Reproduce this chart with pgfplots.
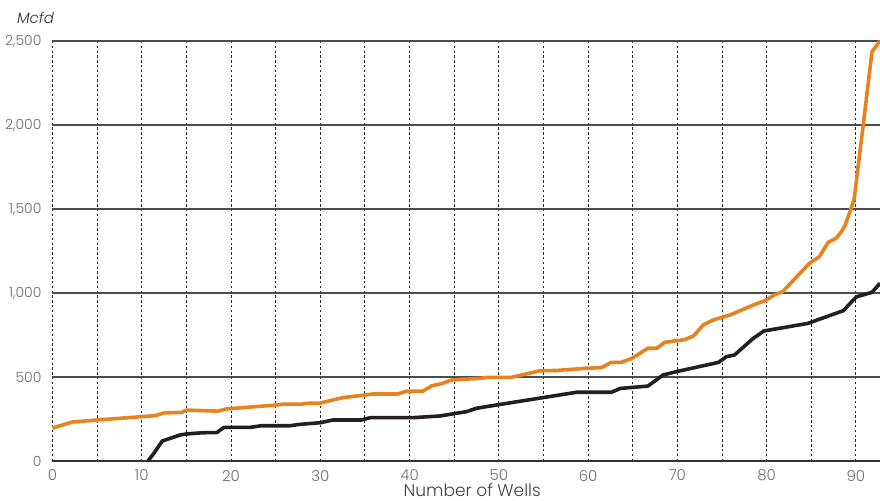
\documentclass[border=0pt]{standalone}
\usepackage{fontspec}
\setmainfont{Poppins}
\newfontfamily\lightfont{Poppins Light}
\newfontfamily\lightitfont{Poppins Light Italic}
\usepackage{pgfplots}
\pgfplotsset{compat=1.18}
\definecolor{corange}{HTML}{E8821E}
\definecolor{cblack}{HTML}{231F20}
\definecolor{cgrey}{HTML}{6D6E71}
\begin{document}
\begin{tikzpicture}
\useasboundingbox (-26.25pt,-19.5pt) rectangle (413.75pt,230.5pt);
\begin{axis}[
  scale only axis, width=413.75pt, height=210pt,
  at={(0,0)}, anchor=south west,
  xmin=0, xmax=92.7, ymin=0, ymax=2500,
  axis line style={draw=none},
  xtick={0,10,...,90}, minor xtick={5,15,...,85},
  ytick={0,500,...,2500},
  yticklabels={0,500,{1,000},{1,500},{2,000},{2,500}},
  xticklabel style={font=\lightfont\fontsize{7.5}{8}\selectfont, text=cgrey},
  yticklabel style={font=\lightfont\fontsize{7}{8}\selectfont, text=cgrey},
  /pgf/number format/assume math mode=true,
  major tick length=0pt, minor tick length=0pt,
  tick style={draw=none},
  xmajorgrids, xminorgrids, ymajorgrids,
  major x grid style={black!85, line width=0.5pt, dash pattern=on 1.2pt off 1.2pt},
  minor x grid style={black!85, line width=0.5pt, dash pattern=on 1.2pt off 1.2pt},
  major y grid style={black!70, line width=0.6pt},
  xticklabel shift=1pt, yticklabel shift=2pt,
  xlabel={Number of Wells},
  xlabel style={font=\lightfont\fontsize{8.5}{9}\selectfont, text=black!75, at={(rel axis cs:0.5,0)}, anchor=base, yshift=-17.5pt, xshift=3pt},
  clip=false,
]
\draw[black!80, line width=0.8pt] (rel axis cs:0,0) -- (rel axis cs:1,0);
\node[anchor=base west, font=\lightitfont\fontsize{7.5}{8}\selectfont, text=black!80] at (rel axis cs:0,1) [xshift=-21.25pt, yshift=9pt] {Mcfd};
\addplot[corange, line width=1.8pt, line join=round] coordinates {
(0,196) (2.2,232) (5,244) (10,264) (11.5,270) (12.5,286) (14.5,290) (15,303)
(18.5,297) (19.5,310) (25,333) (26,339) (28,339) (28.3,343) (30,345) (32.5,377)
(35,393) (35.9,399) (38.7,399) (39.6,415) (41.5,416) (42.5,448) (43.7,462)
(44.7,482) (47.9,492) (48.8,498) (51.4,498) (54.6,537) (56.5,539) (59.8,552)
(61.5,556) (62.6,587) (63.7,587) (64.9,611) (66.7,671) (67.7,671) (68.6,707)
(70.8,722) (71.8,744) (72.9,810) (74.0,839) (75.9,869) (78.7,933) (79.8,954)
(80.9,990) (81.8,1008) (84.8,1177) (85.9,1216) (86.9,1302) (87.8,1326)
(88.5,1375) (88.8,1405) (89.4,1494) (89.8,1558) (90.8,1990) (91.8,2436) (92.7,2500)
};
\addplot[cblack, line width=1.8pt, line join=round] coordinates {
(10.7,0) (11.3,42) (12.3,119) (14.3,155) (15.0,161) (16.5,167) (17.4,169)
(18.4,169) (19.2,200) (22.1,200) (23.4,210) (26.6,210) (27.7,218) (30,228)
(31.4,244) (34.6,244) (35.6,258) (40.4,258) (43.4,268) (46.4,294) (47.5,314)
(49.7,333) (58.7,409) (62.6,409) (63.6,432) (66.7,446) (68.4,512) (69.9,532)
(74.6,587) (75.5,621) (76.4,631) (78.5,730) (79.7,774) (84.6,819) (88.6,895)
(89.7,958) (90.1,978) (91.8,1004) (92.7,1058)
};
\end{axis}
\end{tikzpicture}
\end{document}
